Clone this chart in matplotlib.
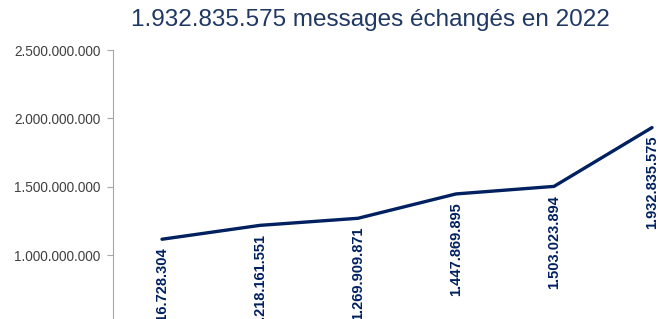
import matplotlib.pyplot as plt
from matplotlib.ticker import FuncFormatter

years = ["2017", "2018", "2019", "2020", "2021", "2022"]
messages = [1116728304, 1218161551, 1269909871, 1447869895, 1503023894, 1932835575]
title = "1.932.835.575 messages échangés en 2022"

navy = "#002060"


def dotted(v):
    return f"{int(v):,}".replace(",", ".")


plt.rcParams["font.family"] = ["Liberation Sans", "DejaVu Sans"]

fig = plt.figure(figsize=(6.58, 3.19), dpi=100)
# the picture is a crop: the axes run past the bottom and right edges
ax = fig.add_axes([113 / 658, -73 / 319, 588 / 658, 342 / 319])

x = list(range(len(years)))
ax.plot(x, messages, color=navy, lw=2.4, solid_capstyle="round")
for xi, v in zip(x, messages):
    ax.annotate(dotted(v), (xi, v), xytext=(0, -6), textcoords="offset points",
                rotation=90, ha="center", va="top", fontsize=10.5,
                fontweight="bold", color=navy)

ax.set_xlim(-0.5, 5.5)
ax.set_ylim(0, 2500000000)
ax.set_yticks([0, 500000000, 1000000000, 1500000000, 2000000000, 2500000000])
ax.yaxis.set_major_formatter(FuncFormatter(lambda v, p: dotted(v)))
ax.set_xticks(x)
ax.set_xticklabels(years)
ax.tick_params(axis="y", labelsize=9.8, colors="#404040", length=4, pad=5,
               color="#a6a6a6")
for s in ["top", "right", "bottom"]:
    ax.spines[s].set_visible(False)
ax.spines["left"].set_color("#a6a6a6")

fig.text(370 / 658, 1 - 20 / 319, title, ha="center", va="center",
         fontsize=17.5, color="#1f3864")

fig.savefig("out.png", dpi=100)
